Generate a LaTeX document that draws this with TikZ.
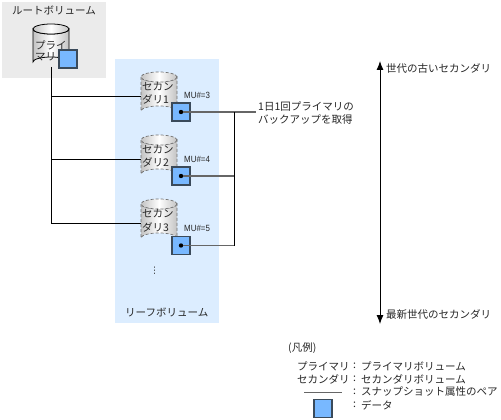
\documentclass[tikz,border=0pt]{standalone}
\usepackage{fontspec}
\setmainfont{Noto Sans CJK JP}
\newfontfamily\latinf[FakeStretch=0.88]{Liberation Sans}
\newfontfamily\symf{DejaVu Sans}
\usetikzlibrary{arrows.meta}
\definecolor{rootbg}{HTML}{EBEBEB}
\definecolor{leafbg}{HTML}{DCEDFF}
\definecolor{datafill}{HTML}{78B8FF}
\definecolor{dataedge}{HTML}{3A4A5A}
\definecolor{pairline}{HTML}{666666}
\definecolor{cylgray}{HTML}{B4B4B4}
\tikzset{
  txt/.style={font=\fontsize{10.5}{12}\selectfont, inner sep=0pt, anchor=west, text=black!85},
  mulabel/.style={font=\latinf\fontsize{9}{10}\selectfont, inner sep=0pt, anchor=west, text=black!85},
  databox/.style={draw=dataedge, line width=1.1pt, fill=datafill, minimum size=18pt, inner sep=0pt},
  dot/.style={circle, fill=black, minimum size=4.4pt, inner sep=0pt},
  link/.style={draw=black, line width=0.9pt},
  pair/.style={draw=pairline, line width=1.1pt},
  cylbody/.style={left color=cylgray!80, right color=cylgray!80, middle color=white},
}
\newcommand{\cylshape}[4]{% x, top y, bottom y, style
  \path[#4, cylbody] (#1-18,#2+5) -- (#1-18,#3-5) arc[start angle=180,end angle=360,x radius=18,y radius=5]
     -- (#1+18,#2+5) arc[start angle=0,end angle=180,x radius=18,y radius=5] -- cycle;
  \path[#4, cylbody] (#1,#2+5) ellipse[x radius=18,y radius=5];
}
\begin{document}
\begin{tikzpicture}[x=1pt,y=-1pt]
\useasboundingbox (0,0) rectangle (501,420);
\fill[rootbg] (2,2) rectangle (106,78);
\fill[leafbg] (115,59) rectangle (219,323);
\node[txt] (rootl) at (12,10) {ルートボリューム};
\node[txt] (leafl) at (125,312) {リーフボリューム};
% cylinders
\cylshape{51}{24}{67}{draw=black, line width=0.8pt}
\cylshape{159}{72}{116}{draw=black!55, dash pattern=on 3pt off 2pt, line width=0.7pt}
\cylshape{159}{135}{179}{draw=black!55, dash pattern=on 3pt off 2pt, line width=0.7pt}
\cylshape{159}{199}{243}{draw=black!55, dash pattern=on 3pt off 2pt, line width=0.7pt}
\coordinate (prim) at (51,67);
\coordinate (s1) at (141,96);
\coordinate (s2) at (141,159);
\coordinate (s3) at (141,223);
\node[txt] (pt1) at (35,45) {プライ};
\node[txt] (pt2) at (35,57) {マリ};
\node[txt] (s1a) at (142,87) {セカン};
\node[txt] (s1b) at (142,99) {ダリ1};
\node[txt] (s2a) at (142,150) {セカン};
\node[txt] (s2b) at (142,162) {ダリ2};
\node[txt] (s3a) at (142,214) {セカン};
\node[txt] (s3b) at (142,227) {ダリ3};
% data boxes
\node[databox] (d0) at (68,59) {};
\node[databox] (d1) at (181,112) {};
\node[databox] (d2) at (181,176) {};
\node[databox] (d3) at (181,245.5) {};
\node[mulabel] (mu1) at (184,95) {MU\#=3};
\node[mulabel] (mu2) at (184,159) {MU\#=4};
\node[mulabel] (mu3) at (184,228) {MU\#=5};
\node[dot] (p1) at (d1) {};
\node[dot] (p2) at (d2) {};
\node[dot] (p3) at (d3) {};
\node[font=\symf\fontsize{9}{10}\selectfont, inner sep=0pt, text=black!85] (vd) at (154.5,271) {⋮};
% connectors
\draw[link] (prim) -- (prim |- s3) -- (s3);
\draw[link] (prim |- s1) -- (s1);
\draw[link] (prim |- s2) -- (s2);
\coordinate (bus) at (234,112);
\coordinate (labelend) at (256,112);
\draw[pair] (p1) -- (labelend);
\draw[pair] (p2) -- (bus |- p2);
\draw[pair] (p3) -- (bus |- p3);
\draw[link] (bus) -- (bus |- p3);
\node[txt] (note1) at (258,107) {1日1回プライマリの};
\node[txt] (note2) at (258,120) {バックアップを取得};
% generations axis
\coordinate (agetop) at (380,61);
\coordinate (agebot) at (380,324);
\draw[{Latex[length=9pt,width=7pt]}-{Latex[length=9pt,width=7pt]}, line width=0.9pt] (agetop) -- (agebot);
\node[txt] (old) at (386,68) {世代の古いセカンダリ};
\node[txt] (new) at (386,314) {最新世代のセカンダリ};
% legend
\node[txt] (lg) at (288,348) {(凡例)};
\node[txt] (k1) at (297,366) {プライマリ};
\node[txt] (c1) at (353,366) {:};
\node[txt] (v1) at (361,366) {プライマリボリューム};
\node[txt] (k2) at (297,379) {セカンダリ};
\node[txt] (c2) at (353,379) {:};
\node[txt] (v2) at (361,379) {セカンダリボリューム};
\coordinate (k3a) at (304,392.5);
\coordinate (k3b) at (342,392.5);
\draw[pair] (k3a) -- (k3b);
\node[txt] (c3) at (353,392) {:};
\node[txt] (v3) at (361,392) {スナップショット属性のペア};
\node[databox] (k4) at (323,408.5) {};
\node[txt] (c4) at (353,405) {:};
\node[txt] (v4) at (361,405) {データ};
\end{tikzpicture}
\end{document}
